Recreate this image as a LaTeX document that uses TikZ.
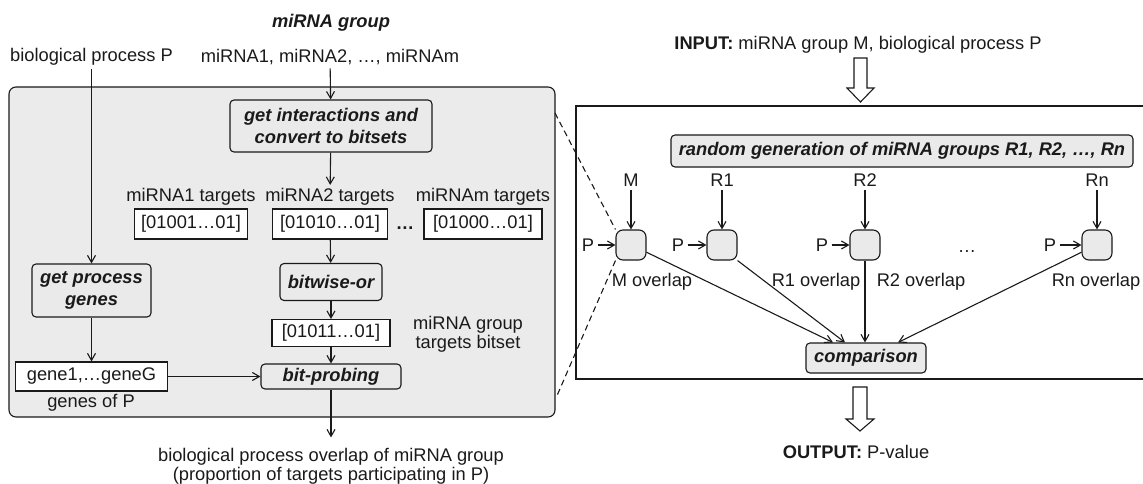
\documentclass[tikz,border=0pt]{standalone}
\usepackage{fontspec}
\setmainfont{Liberation Sans}
\usetikzlibrary{arrows.meta,calc}
\definecolor{panel}{HTML}{EBEBEB}
\definecolor{boxfill}{HTML}{EAEAEA}
\definecolor{ink}{HTML}{1A1A1A}
\begin{document}
\begin{tikzpicture}[x=1pt,y=-1pt,
  every node/.style={font=\fontsize{18.3}{19}\selectfont, text=ink},
  line/.style={draw=ink, line width=1.1pt},
  arr/.style={line, -{Straight Barb[length=7pt,width=8pt]}},
  proc/.style={draw=ink, line width=1.1pt, rounded corners=4pt, fill=boxfill,
    font=\fontsize{18.3}{22}\selectfont\bfseries\itshape, align=center, inner sep=0pt},
  bits/.style={draw=ink, line width=1.1pt, fill=white, minimum height=30pt, inner sep=0pt},
  ovl/.style={draw=ink, line width=1.1pt, rounded corners=7pt, fill=boxfill,
    minimum size=30pt, inner sep=0pt},
  hollow/.style={draw=ink, line width=1.1pt, fill=white, line join=miter},
  zoomline/.style={draw=ink, line width=1.1pt, dash pattern=on 6pt off 4pt},
  bi/.style={font=\fontsize{18.3}{19}\selectfont\bfseries\itshape},
]
\useasboundingbox (0,0) rectangle (1143,484);

% ---------- left panel: overlap of one miRNA group with process P ----------
\draw[draw=ink, line width=1.1pt, fill=panel, rounded corners=7pt] (9,87) rectangle (555,417);
\coordinate (zt) at (555,113);
\coordinate (zb) at (556,398);

\node[bi] (grp) at (331,23) {miRNA group};
\node (bp) at (91.5,57) {biological process P};
\node (mirs) at (330,57) {miRNA1, miRNA2, …, miRNAm};

\node[proc, minimum width=202pt, minimum height=52pt] (getint) at (331,126)
  {get interactions and\\convert to bitsets};

\node (t1) at (191,197) {miRNA1 targets};
\node (t2) at (330,197) {miRNA2 targets};
\node (t3) at (483,197) {miRNAm targets};

\node[bits, minimum width=113pt] (b1) at (191,224) {[01001…01]};
\node[bits, minimum width=115pt] (b2) at (330,224) {[01010…01]};
\node[bits, minimum width=118pt] (b3) at (483,224) {[01000…01]};
\node[font=\fontsize{18.3}{19}\selectfont\bfseries] (bdots) at (405,228) {…};

\node[proc, minimum width=102pt, minimum height=37pt] (bitor) at (331,282) {bitwise-or};
\node[bits, minimum width=118pt, minimum height=27pt] (bor) at (331,333) {[01011…01]};
\node[align=center] (gtb) at (468,334) {miRNA group\\targets bitset};
\node[proc, minimum width=140pt, minimum height=25pt] (probe) at (331,376.5) {bit-probing};

\node[proc, minimum width=119pt, minimum height=53pt] (pgenes) at (91.5,290.5) {get process\\genes};
\node[bits, minimum width=152pt, minimum height=29pt] (genes) at (91.5,376.5) {gene1,…geneG};
\node (gofp) at (91,403) {genes of P};

\node[align=center] (res) at (331,466)
  {biological process overlap of miRNA group\\(proportion of targets participating in P)};

\draw[arr] (bp) -- (pgenes);
\draw[arr] (mirs) -- (getint);
\draw[arr] (getint) -- (t2);
\draw[arr] (b2) -- (bitor);
\draw[arr] (bitor) -- (bor);
\draw[arr] (bor) -- (probe);
\draw[arr] (pgenes) -- (genes);
\draw[arr] (genes) -- (probe);
\draw[arr, shorten >=7pt] (probe) -- (res);

% ---------- right panel: significance by random groups ----------
\node (inp) at (858,45) {\textbf{INPUT:} miRNA group M, biological process P};
\draw[hollow] (854,58) -- (867,58) -- (867,88) -- (874,88) -- (860.5,102) -- (847,88) -- (854,88) -- cycle;

\draw[line] (1150,106) -- (576,106) -- (576,379) -- (1150,379);

\node[proc, minimum width=462pt, minimum height=32pt] (rand) at (902,151)
  {random generation of miRNA groups R1, R2, …, Rn};

\node (lM)  at (631,180) {M};
\node (lR1) at (722,180) {R1};
\node (lR2) at (865,180) {R2};
\node (lRn) at (1097,180) {Rn};

\node[ovl] (nM)  at (631,245) {};
\node[ovl] (nR1) at (722,245) {};
\node[ovl] (nR2) at (865,245) {};
\node[ovl] (nRn) at (1097,245) {};

\node (pM)  at (588,245) {P};
\node (pR1) at (678,245) {P};
\node (pR2) at (822,245) {P};
\node (pRn) at (1050,245) {P};
\node (rdots) at (967,252) {…};

\node (oM)  at (652,282) {M overlap};
\node (oR1) at (816,282) {R1 overlap};
\node (oR2) at (921,282) {R2 overlap};
\node (oRn) at (1096,282) {Rn overlap};

\node[proc, minimum width=120pt, minimum height=30pt] (cmp) at (866,358) {comparison};

\foreach \n in {M,R1,R2,Rn}{
  \draw[arr] (l\n) -- (n\n);
  \draw[arr] (p\n) -- (n\n);
}
\draw[arr] (nM.-25)  -- ($(cmp.north)+(-33,0)$);
\draw[arr] (nR1.-45) -- ($(cmp.north)+(-21,0)$);
\draw[arr] (nR2.south) -- ($(cmp.north)+(-1,0)$);
\draw[arr] (nRn.-155) -- ($(cmp.north)+(32,0)$);

\draw[hollow] (853,387) -- (867,387) -- (867,419) -- (874,419) -- (860,431) -- (846,419) -- (853,419) -- cycle;
\node (outp) at (856,452) {\textbf{OUTPUT:} P-value};

% ---------- zoom lines joining the two panels ----------
\draw[zoomline] (zt) -- (nM.north west);
\draw[zoomline] (nM.south west) -- (zb);
\end{tikzpicture}
\end{document}
